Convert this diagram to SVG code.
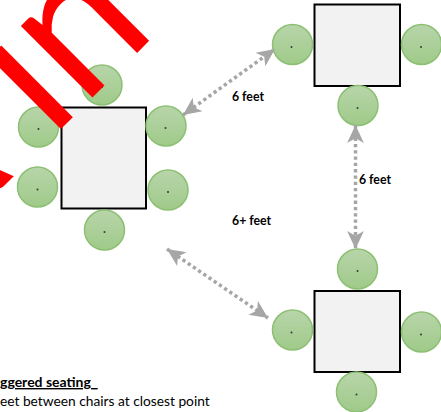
<svg xmlns="http://www.w3.org/2000/svg" width="441" height="412" viewBox="0 0 441 412">
<style>
.c{fill:url(#g);stroke:#8cc072;stroke-width:1.5}
.d{fill:#3a3a3a}
.t{fill:#f2f2f2;stroke:#000;stroke-width:2}
.l{fill:none;stroke:#a6a6a6;stroke-width:3.500;stroke-dasharray:3.300 3;marker-start:url(#a);marker-end:url(#a)}
.s{font-family:Lato,"Liberation Sans",sans-serif;fill:#000}
.b{font-size:12.300px;font-weight:700}
</style>
<defs>
<linearGradient id="g" x1="0" y1="0" x2="0" y2="1"><stop offset="0" stop-color="#b8d5aa"/><stop offset="1" stop-color="#9fca89"/></linearGradient>
<marker id="a" markerUnits="userSpaceOnUse" markerWidth="24" markerHeight="24" refX="16" refY="8" viewBox="0 0 20 16" orient="auto-start-reverse"><path d="M16 8L1 1L5 8L1 15Z" fill="#a6a6a6"/></marker>
</defs>
<g id="table-left"><rect class="t" x="61.500" y="107.500" width="84.500" height="101"/></g>
<g id="table-top-right"><rect class="t" x="314.500" y="4.500" width="85.500" height="81.500"/></g>
<g id="table-bottom-right"><rect class="t" x="314.500" y="291" width="85.500" height="81"/></g>
<g id="chairs-left">
<g id="c1"><circle class="c" cx="102" cy="85" r="20"/><circle class="d" cx="102" cy="87" r="1"/></g>
<g id="c2"><circle class="c" cx="38.500" cy="127" r="20"/><circle class="d" cx="38.500" cy="129" r="1"/></g>
<g id="c3"><circle class="c" cx="166" cy="126" r="20"/><circle class="d" cx="165.500" cy="128" r="1"/></g>
<g id="c4"><circle class="c" cx="37.500" cy="187" r="20"/><circle class="d" cx="37.500" cy="189.500" r="1"/></g>
<g id="c5"><circle class="c" cx="168" cy="190" r="20"/><circle class="d" cx="168" cy="192" r="1"/></g>
<g id="c6"><circle class="c" cx="104.500" cy="230" r="20"/><circle class="d" cx="104.500" cy="232" r="1"/></g>
</g>
<g id="chairs-top-right">
<g id="c7"><circle class="c" cx="292.500" cy="44.500" r="20"/><circle class="d" cx="291.500" cy="47" r="1"/></g>
<g id="c8"><circle class="c" cx="421.500" cy="44.500" r="20"/><circle class="d" cx="421" cy="47" r="1"/></g>
<g id="c9"><circle class="c" cx="358" cy="105.500" r="20"/><circle class="d" cx="357.500" cy="108" r="1"/></g>
</g>
<g id="chairs-bottom-right">
<g id="c10"><circle class="c" cx="357.500" cy="269" r="20"/><circle class="d" cx="357.500" cy="271" r="1"/></g>
<g id="c11"><circle class="c" cx="292.500" cy="330" r="20"/><circle class="d" cx="291.500" cy="332.500" r="1"/></g>
<g id="c12"><circle class="c" cx="421.500" cy="332" r="20"/><circle class="d" cx="421" cy="334.500" r="1"/></g>
<g id="c13"><circle class="c" cx="356.500" cy="392" r="20"/><circle class="d" cx="356.500" cy="394.500" r="1"/></g>
</g>
<g id="connectors">
<line class="l" x1="183" y1="115" x2="275" y2="49"/>
<line class="l" x1="355.500" y1="125" x2="355.500" y2="249"/>
<line class="l" x1="167" y1="249" x2="268" y2="318"/>
</g>
<g id="labels">
<text class="s b" x="232" y="101">6 feet</text>
<text class="s b" x="359" y="184">6 feet</text>
<text class="s b" x="232" y="225">6+ feet</text>
<text class="s" x="0" y="387" font-size="14" font-weight="700" text-decoration="underline" xml:space="preserve">ggered seating  </text>
<text class="s" x="0" y="406" font-size="13.750">eet between chairs at closest point</text>
</g>
<text id="watermark" transform="translate(-70 260) rotate(-45) scale(.95 1)" font-family="Lato,'Liberation Sans',sans-serif" font-size="200" fill="#f00"><tspan dx="-10">A </tspan><tspan dx="10">in</tspan></text>
</svg>
